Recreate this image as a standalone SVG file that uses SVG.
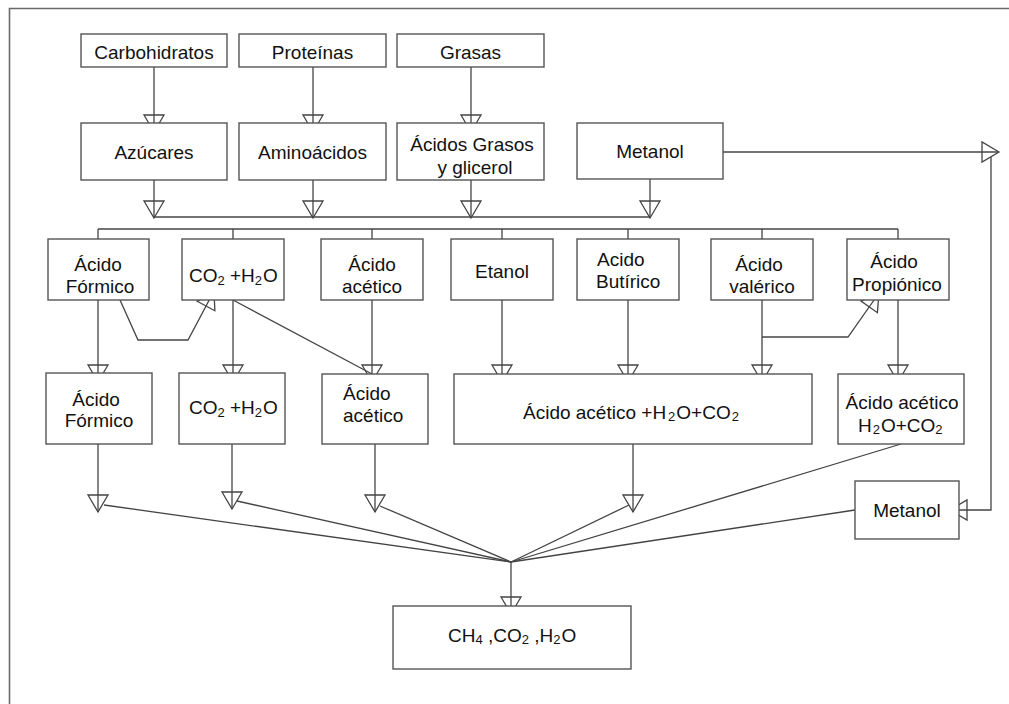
<svg xmlns="http://www.w3.org/2000/svg" width="1009" height="704" viewBox="0 0 1009 704">
<style>
.box{fill:#fff;stroke:#555;stroke-width:1.4}
.t{font-family:"Liberation Sans",Arial,sans-serif;font-size:19px;fill:#111}
.m{text-anchor:middle}
.s{font-size:13px}
.c{fill:none;stroke:#444;stroke-width:1.3}
.frame{stroke:#6a6a6a;stroke-width:1.6;fill:none}
</style>
<defs>
<marker id="tri" markerUnits="userSpaceOnUse" orient="auto" refX="0" refY="0" markerWidth="1" markerHeight="1" overflow="visible">
<path d="M0,0 L-17,-10 L-17,10 Z" fill="none" stroke="#444" stroke-width="1.3"/>
</marker>
</defs>
<rect width="1009" height="704" fill="#fff"/>
<path class="frame" d="M9.5,704 V8.5 H1009"/>

<g id="connectors">
<g class="c">
<line x1="154" y1="67" x2="154" y2="132" marker-end="url(#tri)"/>
<line x1="313" y1="67" x2="313" y2="132" marker-end="url(#tri)"/>
<line x1="471" y1="67" x2="471" y2="132" marker-end="url(#tri)"/>
<line x1="154" y1="180" x2="154" y2="218" marker-end="url(#tri)"/>
<line x1="313" y1="180" x2="313" y2="218" marker-end="url(#tri)"/>
<line x1="471" y1="180" x2="471" y2="218" marker-end="url(#tri)"/>
<line x1="650" y1="179" x2="650" y2="218" marker-end="url(#tri)"/>
<line x1="154" y1="217" x2="650" y2="217"/>
<line x1="98" y1="229" x2="898" y2="229"/>
<path d="M98,229V239 M233,229V239 M372,229V239 M502,229V239 M628,229V239 M762,229V239 M898,229V239"/>
<line x1="98" y1="300" x2="98" y2="382" marker-end="url(#tri)"/>
<line x1="233" y1="300" x2="233" y2="382" marker-end="url(#tri)"/>
<line x1="372" y1="300" x2="372" y2="382" marker-end="url(#tri)"/>
<line x1="502" y1="300" x2="502" y2="382" marker-end="url(#tri)"/>
<line x1="628" y1="300" x2="628" y2="382" marker-end="url(#tri)"/>
<line x1="762" y1="300" x2="762" y2="382" marker-end="url(#tri)"/>
<line x1="898" y1="300" x2="898" y2="382" marker-end="url(#tri)"/>
<polyline points="120,300 138,340 188,340 214,291" marker-end="url(#tri)"/>
<line x1="233" y1="300" x2="372" y2="374"/>
<polyline points="762,337 848,337 879,293" marker-end="url(#tri)"/>
<line x1="723" y1="152" x2="999" y2="152" marker-end="url(#tri)"/>
<polyline points="991,157 991,510 950,510" marker-end="url(#tri)"/>
<line x1="98" y1="444" x2="98" y2="512" marker-end="url(#tri)"/>
<line x1="232" y1="444" x2="232" y2="509" marker-end="url(#tri)"/>
<line x1="375" y1="444" x2="375" y2="512" marker-end="url(#tri)"/>
<line x1="633" y1="444" x2="633" y2="512" marker-end="url(#tri)"/>
<line x1="104" y1="505" x2="511" y2="562"/>
<line x1="237" y1="501" x2="511" y2="562"/>
<line x1="380" y1="506" x2="511" y2="562"/>
<line x1="629" y1="505" x2="511" y2="562"/>
<line x1="901" y1="444" x2="511" y2="562"/>
<line x1="855" y1="510" x2="511" y2="562"/>
<line x1="511" y1="562" x2="511" y2="614" marker-end="url(#tri)"/>
</g>
</g>

<g id="carbohidratos"><rect class="box" x="81" y="34" width="146" height="33"/><text class="t m" x="154" y="59">Carbohidratos</text></g>
<g id="proteinas"><rect class="box" x="239" y="34" width="147" height="33"/><text class="t m" x="312.5" y="59">Proteínas</text></g>
<g id="grasas"><rect class="box" x="397" y="34" width="147" height="33"/><text class="t m" x="470.5" y="59">Grasas</text></g>

<g id="azucares"><rect class="box" x="81" y="123" width="146" height="57"/><text class="t m" x="154" y="159">Azúcares</text></g>
<g id="aminoacidos"><rect class="box" x="239" y="123" width="147" height="57"/><text class="t m" x="312.5" y="159">Aminoácidos</text></g>
<g id="acidos-grasos"><rect class="box" x="397" y="123" width="147" height="57"/><text class="t m" x="472" y="151">Ácidos Grasos</text><text class="t m" x="475" y="174">y glicerol</text></g>
<g id="metanol-1"><rect class="box" x="577" y="123" width="146" height="56"/><text class="t m" x="650" y="158">Metanol</text></g>

<g id="acido-formico-1"><rect class="box" x="48" y="239" width="101" height="61"/><text class="t m" x="98" y="271">Ácido</text><text class="t m" x="100" y="293">Fórmico</text></g>
<g id="co2-h2o-1"><rect class="box" x="182" y="239" width="102" height="61"/><text class="t" x="189" y="282">CO<tspan class="s" dy="3">2</tspan><tspan dy="-3"> +H</tspan><tspan class="s" dy="3">2</tspan><tspan dy="-3" dx="1">O</tspan></text></g>
<g id="acido-acetico-1"><rect class="box" x="321" y="239" width="102" height="61"/><text class="t m" x="372" y="271">Ácido</text><text class="t m" x="372" y="293">acético</text></g>
<g id="etanol"><rect class="box" x="451" y="239" width="102" height="61"/><text class="t m" x="502" y="278">Etanol</text></g>
<g id="acido-butirico"><rect class="box" x="577" y="239" width="102" height="61"/><text class="t" x="597" y="266">Acido</text><text class="t" x="596" y="288">Butírico</text></g>
<g id="acido-valerico"><rect class="box" x="711" y="239" width="102" height="61"/><text class="t m" x="759" y="271">Ácido</text><text class="t m" x="762" y="293">valérico</text></g>
<g id="acido-propionico"><rect class="box" x="847" y="239" width="102" height="61"/><text class="t m" x="894" y="268">Ácido</text><text class="t m" x="897" y="291">Propiónico</text></g>

<g id="acido-formico-2"><rect class="box" x="46" y="373" width="106" height="71"/><text class="t m" x="96" y="406">Ácido</text><text class="t m" x="99" y="427">Fórmico</text></g>
<g id="co2-h2o-2"><rect class="box" x="179" y="373" width="106" height="71"/><text class="t" x="189" y="414">CO<tspan class="s" dy="3">2</tspan><tspan dy="-3"> +H</tspan><tspan class="s" dy="3">2</tspan><tspan dy="-3" dx="1">O</tspan></text></g>
<g id="acido-acetico-2"><rect class="box" x="322" y="374" width="106" height="70"/><text class="t" x="343" y="400">Ácido</text><text class="t" x="343" y="422">acético</text></g>
<g id="acido-acetico-h2o-co2"><rect class="box" x="454" y="374" width="358" height="70"/><text class="t" x="523" y="419">Ácido acético +H<tspan class="s" dy="2" dx="2">2</tspan><tspan dy="-2" dx="1">O+CO</tspan><tspan class="s" dy="2" dx="1">2</tspan></text></g>
<g id="acido-acetico-h2o-co2-b"><rect class="box" x="838" y="374" width="126" height="70"/><text class="t m" x="902" y="409">Ácido acético</text><text class="t" x="858" y="432">H<tspan class="s" dy="2" dx="1">2</tspan><tspan dy="-2" dx="1">O+CO</tspan><tspan class="s" dy="2">2</tspan></text></g>
<g id="metanol-2"><rect class="box" x="855" y="481" width="104" height="58"/><text class="t m" x="907" y="517">Metanol</text></g>

<g id="ch4-co2-h2o"><rect class="box" x="393" y="606" width="238" height="63"/><text class="t" x="448" y="642">CH<tspan class="s" dy="2">4</tspan><tspan dy="-2"> ,CO</tspan><tspan class="s" dy="2">2</tspan><tspan dy="-2"> ,H</tspan><tspan class="s" dy="2">2</tspan><tspan dy="-2" dx="1">O</tspan></text></g>
</svg>
